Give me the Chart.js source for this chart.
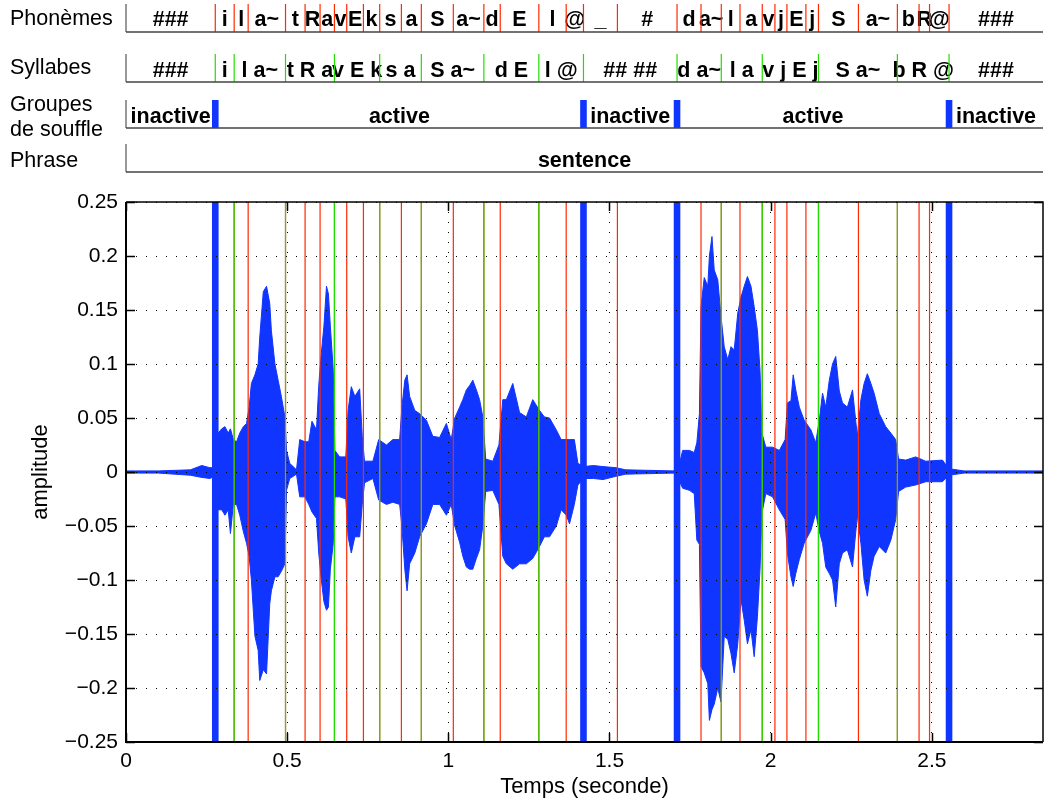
<!DOCTYPE html>
<html>
<head>
<meta charset="utf-8">
<script src="https://cdn.jsdelivr.net/npm/chart.js@4.4.0/dist/chart.umd.min.js"></script>
<style>
html,body{margin:0;padding:0;background:#fff;}
#wrap{position:relative;width:1044px;height:802px;}
</style>
</head>
<body>
<div id="wrap"><canvas id="c" width="1044" height="802"></canvas></div>
<script>
// ---------------- data ----------------
const xTickValues = [0, 0.5, 1, 1.5, 2, 2.5];
const xTickLabels = ['0', '0.5', '1', '1.5', '2', '2.5'];
const yTickValues = [-0.25, -0.2, -0.15, -0.1, -0.05, 0, 0.05, 0.1, 0.15, 0.2, 0.25];
const yTickLabels = ['\u22120.25', '\u22120.2', '\u22120.15', '\u22120.1', '\u22120.05', '0', '0.05', '0.1', '0.15', '0.2', '0.25'];
const xMin = 0, xMax = 2.845, yMin = -0.25, yMax = 0.25;

const phonemeBounds = [0.277, 0.3356, 0.379, 0.4949, 0.5556, 0.6021, 0.6467, 0.6848, 0.7366, 0.7871, 0.8544, 0.9163,
  1.0155, 1.1103, 1.1611, 1.2808, 1.3657, 1.4193, 1.5246, 1.7096, 1.784, 1.8469, 1.9049, 1.974, 2.0133, 2.0505,
  2.1094, 2.1484, 2.2724, 2.3932, 2.4605, 2.493, 2.5535];
const phonemeLabels = ['###', 'i', 'l', 'a~', 't', 'R', 'a', 'v', 'E', 'k', 's', 'a', 'S', 'a~', 'd', 'E', 'l', '@', '_', '#',
  'd', 'a~', 'l', 'a', 'v', 'j', 'E', 'j', 'S', 'a~', 'b', 'R', '@', '###'];

const syllableBounds = [0.277, 0.3356, 0.4949, 0.6467, 0.7871, 0.9163, 1.1103, 1.2808, 1.4193, 1.7096, 1.8469, 1.974,
  2.1484, 2.3932, 2.5535];
const syllableLabels = ['###', 'i', 'l a~', 't R a', 'v E k', 's a', 'S a~', 'd E', 'l @', '## ##', 'd a~', 'l a',
  'v j E j', 'S a~', 'b R @', '###'];

const breathBounds = [0.277, 1.4193, 1.7096, 2.5535];
const breathLabels = ['inactive', 'active', 'inactive', 'active', 'inactive'];

const phraseBounds = [];
const phraseLabels = ['sentence'];

const waveTime = [0.000, 0.100, 0.200, 0.235, 0.260, 0.275, 0.286, 0.297, 0.307, 0.317, 0.324, 0.333, 0.343, 0.353,
  0.364, 0.374, 0.382, 0.389, 0.400, 0.410, 0.415, 0.426, 0.436, 0.446, 0.451, 0.462, 0.472, 0.482, 0.493, 0.498,
  0.508, 0.529, 0.539, 0.555, 0.567, 0.577, 0.591, 0.598, 0.606, 0.614, 0.622, 0.628, 0.634, 0.643, 0.648, 0.663,
  0.682, 0.689, 0.699, 0.710, 0.725, 0.733, 0.740, 0.766, 0.784, 0.808, 0.828, 0.849, 0.856, 0.865, 0.872, 0.880,
  0.896, 0.911, 0.932, 0.952, 0.973, 0.994, 1.009, 1.020, 1.035, 1.045, 1.056, 1.066, 1.076, 1.087, 1.097, 1.107,
  1.116, 1.138, 1.157, 1.169, 1.180, 1.200, 1.221, 1.242, 1.262, 1.283, 1.298, 1.314, 1.335, 1.350, 1.366, 1.376,
  1.391, 1.402, 1.420, 1.450, 1.480, 1.520, 1.550, 1.700, 1.719, 1.727, 1.748, 1.763, 1.771, 1.779, 1.784, 1.794,
  1.805, 1.810, 1.818, 1.825, 1.836, 1.846, 1.856, 1.867, 1.877, 1.887, 1.898, 1.908, 1.918, 1.928, 1.939, 1.949,
  1.959, 1.967, 1.973, 1.985, 2.006, 2.027, 2.045, 2.052, 2.063, 2.070, 2.078, 2.089, 2.104, 2.125, 2.140, 2.151,
  2.161, 2.171, 2.182, 2.192, 2.202, 2.213, 2.223, 2.238, 2.254, 2.269, 2.280, 2.290, 2.300, 2.311, 2.321, 2.337,
  2.357, 2.373, 2.388, 2.397, 2.419, 2.450, 2.481, 2.533, 2.553, 2.600, 2.845];
const waveUpper = [0.001, 0.001, 0.002, 0.006, 0.004, 0.004, 0.036, 0.040, 0.042, 0.036, 0.040, 0.030, 0.028, 0.036,
  0.042, 0.045, 0.060, 0.082, 0.090, 0.100, 0.125, 0.167, 0.172, 0.156, 0.131, 0.100, 0.085, 0.070, 0.051, 0.020,
  0.008, 0.002, 0.030, 0.028, 0.028, 0.047, 0.039, 0.080, 0.110, 0.135, 0.172, 0.165, 0.135, 0.094, 0.020, 0.014,
  0.014, 0.057, 0.079, 0.070, 0.077, 0.033, 0.010, 0.010, 0.030, 0.025, 0.030, 0.030, 0.060, 0.085, 0.090, 0.070,
  0.057, 0.054, 0.048, 0.033, 0.032, 0.045, 0.030, 0.050, 0.060, 0.067, 0.076, 0.080, 0.085, 0.076, 0.067, 0.051,
  0.012, 0.010, 0.025, 0.067, 0.067, 0.082, 0.055, 0.051, 0.067, 0.057, 0.051, 0.050, 0.039, 0.030, 0.030, 0.030,
  0.030, 0.008, 0.005, 0.006, 0.005, 0.004, 0.002, 0.001, 0.010, 0.020, 0.020, 0.018, 0.027, 0.054, 0.153, 0.180,
  0.172, 0.200, 0.218, 0.187, 0.178, 0.144, 0.116, 0.104, 0.116, 0.113, 0.147, 0.162, 0.172, 0.181, 0.172, 0.153,
  0.131, 0.094, 0.036, 0.023, 0.023, 0.020, 0.030, 0.064, 0.066, 0.090, 0.076, 0.060, 0.048, 0.039, 0.027, 0.048,
  0.073, 0.060, 0.085, 0.100, 0.107, 0.075, 0.064, 0.060, 0.076, 0.033, 0.067, 0.082, 0.091, 0.082, 0.073, 0.054,
  0.042, 0.036, 0.030, 0.012, 0.011, 0.014, 0.010, 0.011, 0.003, 0.001, 0.001];
const waveLower = [-0.001, -0.001, -0.003, -0.005, -0.006, -0.004, -0.035, -0.035, -0.040, -0.035, -0.057, -0.030,
  -0.030, -0.040, -0.055, -0.066, -0.078, -0.100, -0.152, -0.165, -0.193, -0.183, -0.187, -0.122, -0.110, -0.097,
  -0.097, -0.092, -0.085, -0.017, -0.006, -0.002, -0.023, -0.023, -0.030, -0.037, -0.043, -0.075, -0.100, -0.120,
  -0.128, -0.125, -0.090, -0.066, -0.023, -0.023, -0.025, -0.060, -0.075, -0.060, -0.060, -0.030, -0.010, -0.006,
  -0.026, -0.030, -0.028, -0.030, -0.050, -0.090, -0.110, -0.085, -0.075, -0.060, -0.048, -0.030, -0.030, -0.040,
  -0.030, -0.050, -0.065, -0.078, -0.088, -0.090, -0.090, -0.080, -0.072, -0.050, -0.018, -0.017, -0.030, -0.078,
  -0.085, -0.090, -0.085, -0.085, -0.080, -0.069, -0.060, -0.060, -0.050, -0.035, -0.040, -0.048, -0.030, -0.012,
  -0.006, -0.006, -0.007, -0.004, -0.002, -0.001, -0.010, -0.015, -0.017, -0.020, -0.063, -0.067, -0.180, -0.186,
  -0.196, -0.230, -0.220, -0.215, -0.200, -0.213, -0.152, -0.155, -0.168, -0.186, -0.159, -0.118, -0.137, -0.159,
  -0.146, -0.171, -0.134, -0.090, -0.038, -0.020, -0.023, -0.035, -0.044, -0.075, -0.097, -0.106, -0.094, -0.081,
  -0.066, -0.054, -0.038, -0.055, -0.066, -0.088, -0.094, -0.100, -0.125, -0.085, -0.075, -0.072, -0.088, -0.040,
  -0.066, -0.100, -0.115, -0.091, -0.078, -0.069, -0.075, -0.063, -0.044, -0.018, -0.014, -0.012, -0.009, -0.009,
  -0.003, -0.001, -0.001];

// ---------------- styles ----------------
const BLUE = '#0f35ff', RED = '#ff2a00', GREEN = '#22dd00';
const FONT = "'Liberation Sans', Arial, Helvetica, sans-serif";
Chart.defaults.font.family = FONT;
Chart.defaults.color = '#000';

function vlineData(bounds) {
  const out = [];
  bounds.forEach(t => { out.push({x: t, y: yMin}, {x: t, y: yMax}, {x: t, y: null}); });
  return out;
}

const tiers = [
  {bounds: phonemeBounds, labels: phonemeLabels, top: 4, bottom: 32, base: 25.5, kind: 'line', color: RED},
  {bounds: syllableBounds, labels: syllableLabels, top: 54, bottom: 82, base: 76.5, kind: 'line', color: GREEN},
  {bounds: breathBounds, labels: breathLabels, top: 100, bottom: 128, base: 122.5, kind: 'bar', color: BLUE},
  {bounds: phraseBounds, labels: phraseLabels, top: 144, bottom: 172, base: 166.5, kind: 'line', color: RED}
];
const sideLabels = [
  {text: 'Phonèmes', y: 25}, {text: 'Syllabes', y: 73.5}, {text: 'Groupes', y: 110.5},
  {text: 'de souffle', y: 135.5}, {text: 'Phrase', y: 166.5}
];

const framePlugin = {
  id: 'frame',
  afterDraw(chart) {
    const ctx = chart.ctx, xs = chart.scales.x, ys = chart.scales.y, a = chart.chartArea;
    ctx.save();
    // axes box
    ctx.strokeStyle = '#000';
    ctx.lineWidth = 1.5;
    ctx.beginPath();
    ctx.moveTo(a.left, a.top); ctx.lineTo(a.right, a.top); ctx.lineTo(a.right, a.bottom);
    ctx.stroke();
    ctx.lineWidth = 2;
    ctx.beginPath();
    ctx.moveTo(a.left, a.top); ctx.lineTo(a.left, a.bottom); ctx.lineTo(a.right, a.bottom);
    ctx.stroke();
    // inward tick marks
    ctx.lineWidth = 1.5;
    ctx.beginPath();
    xs.ticks.forEach(t => {
      const p = Math.round(xs.getPixelForValue(t.value)) + 0.5;
      ctx.moveTo(p, a.bottom); ctx.lineTo(p, a.bottom - 9);
      ctx.moveTo(p, a.top); ctx.lineTo(p, a.top + 9);
    });
    ys.ticks.forEach(t => {
      const p = Math.round(ys.getPixelForValue(t.value)) + 0.5;
      ctx.moveTo(a.left, p); ctx.lineTo(a.left + 9, p);
      ctx.moveTo(a.right, p); ctx.lineTo(a.right - 9, p);
    });
    ctx.stroke();

    // annotation tiers
    tiers.forEach(tier => {
      const edges = [xMin].concat(tier.bounds, [xMax]);
      ctx.fillStyle = '#000';
      ctx.font = 'bold 21.5px ' + FONT;
      ctx.textAlign = 'center';
      ctx.textBaseline = 'alphabetic';
      tier.labels.forEach((lab, i) => {
        const c = (xs.getPixelForValue(edges[i]) + xs.getPixelForValue(edges[i + 1])) / 2;
        ctx.fillText(lab, c, tier.base);
      });
      tier.bounds.forEach(b => {
        const p = xs.getPixelForValue(b);
        if (tier.kind === 'bar') {
          ctx.fillStyle = tier.color;
          ctx.fillRect(p - 3.3, tier.top, 6.6, tier.bottom - tier.top);
        } else {
          ctx.strokeStyle = tier.color;
          ctx.lineWidth = 1.2;
          ctx.beginPath(); ctx.moveTo(p, tier.top); ctx.lineTo(p, tier.bottom); ctx.stroke();
        }
      });
      ctx.strokeStyle = '#777';
      ctx.lineWidth = 1.5;
      ctx.beginPath(); ctx.moveTo(a.left, tier.top); ctx.lineTo(a.left, tier.bottom); ctx.stroke();
      ctx.strokeStyle = '#444';
      ctx.beginPath(); ctx.moveTo(a.left, tier.bottom); ctx.lineTo(a.right, tier.bottom); ctx.stroke();
    });
    ctx.fillStyle = '#000';
    ctx.font = '21.5px ' + FONT;
    ctx.textAlign = 'left';
    sideLabels.forEach(s => ctx.fillText(s.text, 10, s.y));
    ctx.restore();
  }
};

new Chart(document.getElementById('c'), {
  type: 'line',
  data: {
    datasets: [
      {data: vlineData(breathBounds), borderColor: BLUE, borderWidth: 6.6, borderCapStyle: 'butt', fill: false},
      {data: vlineData(syllableBounds), borderColor: GREEN, borderWidth: 1.2, fill: false},
      {data: vlineData(phonemeBounds), borderColor: RED, borderWidth: 1.2, fill: false},
      {data: waveTime.map((t, i) => ({x: t, y: waveUpper[i]})), borderColor: BLUE, borderWidth: 1, fill: false},
      {data: waveTime.map((t, i) => ({x: t, y: waveLower[i]})), borderColor: BLUE, borderWidth: 1,
        fill: '-1', backgroundColor: BLUE}
    ]
  },
  options: {
    responsive: false,
    animation: false,
    devicePixelRatio: 1,
    layout: {padding: {top: 202, right: 1, bottom: 0, left: 0}},
    plugins: {legend: {display: false}, tooltip: {enabled: false}},
    elements: {point: {radius: 0, hoverRadius: 0}, line: {tension: 0}},
    scales: {
      x: {
        type: 'linear', min: xMin, max: xMax,
        afterFit(s) { s.height = 60; },
        afterBuildTicks(s) { s.ticks = xTickValues.map(v => ({value: v})); },
        ticks: {callback: (v, i) => xTickLabels[i], padding: 7, font: {size: 21}, color: '#000',
          maxRotation: 0, autoSkip: false},
        grid: {color: '#000', lineWidth: 1, drawTicks: false, z: 1},
        border: {display: false, dash: [1, 9]},
        title: {display: true, text: 'Temps (seconde)', font: {size: 22}, color: '#000', padding: {top: 0, bottom: 2}}
      },
      y: {
        type: 'linear', min: yMin, max: yMax,
        afterFit(s) { s.width = 126; },
        afterBuildTicks(s) { s.ticks = yTickValues.map(v => ({value: v})); },
        ticks: {callback: (v, i) => yTickLabels[i], padding: 8, font: {size: 21}, color: '#000', autoSkip: false},
        grid: {color: '#000', lineWidth: 1, drawTicks: false, z: 1},
        border: {display: false, dash: [1, 9]},
        title: {display: true, text: 'amplitude', font: {size: 22}, color: '#000', padding: {top: 28, bottom: 0}}
      }
    }
  },
  plugins: [framePlugin]
});
</script>
</body>
</html>
